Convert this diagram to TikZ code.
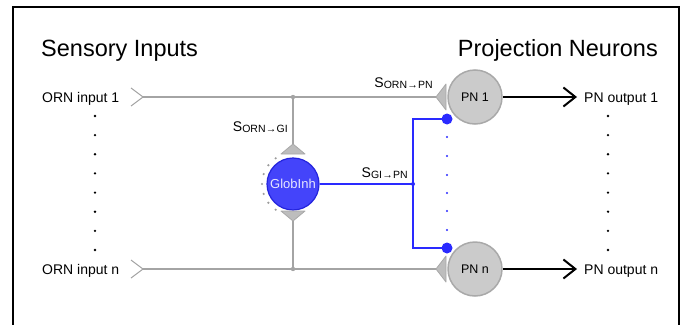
\documentclass[tikz,border=0pt]{standalone}
\usepackage{fontspec}
\setmainfont{Liberation Sans}
\usetikzlibrary{arrows.meta,calc}

\definecolor{wire}{HTML}{A4A4A4}
\definecolor{trifill}{HTML}{BDBDBD}
\definecolor{triedge}{HTML}{A8A8A8}
\definecolor{pnfill}{HTML}{CBCBCB}
\definecolor{pnedge}{HTML}{A9A9A9}
\definecolor{gifill}{HTML}{4444FA}
\definecolor{giedge}{HTML}{2424DD}
\definecolor{gitext}{HTML}{E6E6FF}
\definecolor{inh}{HTML}{2A2AFF}
\definecolor{arcdot}{HTML}{9C9C9C}

% synapse label: S with a small subscript
\newcommand{\synlabel}[2]{S\raisebox{-1pt}{\fontsize{10.5}{10.5}\selectfont #1\kern0.3pt→\kern0.3pt#2}}

\begin{document}
\begin{tikzpicture}[x=1pt,y=-1pt,
  title/.style={font=\fontsize{23.5}{28}\selectfont, inner sep=0pt},
  lbl/.style={font=\fontsize{14}{16}\selectfont, inner sep=0pt},
  synlab/.style={font=\fontsize{14}{16}\selectfont, inner sep=0pt},
  pn/.style={circle, minimum size=54pt, inner sep=0pt, fill=pnfill, draw=pnedge,
    line width=1.5pt, font=\fontsize{12.5}{14}\selectfont},
  gi/.style={circle, minimum size=52pt, inner sep=0pt, fill=gifill, draw=giedge,
    line width=1.2pt, text=gitext, font=\fontsize{13}{15}\selectfont},
  wireline/.style={draw=wire, line width=1.2pt},
  syntri/.style={fill=trifill, draw=triedge, line width=0.8pt, line join=round},
  inhline/.style={draw=inh, line width=1.3pt},
  bdot/.style={circle, minimum size=11pt, inner sep=0pt, fill=inh, draw=none},
  outarrow/.style={draw=black, line width=2pt,
    -{Straight Barb[length=12pt, width=19pt, line width=2pt]}},
]
\useasboundingbox (0,0) rectangle (690,324);
\fill[white] (0,0) rectangle (690,324);
\draw[line width=1.5pt] (13,7) rectangle (679,340);

% titles
\node[title, anchor=base west] (tin) at (41,56) {Sensory Inputs};
\node[title, anchor=base east] (tpn) at (658,56) {Projection Neurons};

% inputs
\node[lbl, anchor=base west] (in1) at (42,102) {ORN input 1};
\node[lbl, anchor=base west] (inn) at (42,274) {ORN input n};
\coordinate (c1) at (143,97);
\coordinate (cn) at (143,269);
\coordinate (j1) at (293,97);
\coordinate (jn) at (293,269);

% neurons
\node[pn] (pn1) at (475,97) {PN 1};
\node[pn] (pnn) at (475,269) {PN n};
\node[gi] (gi) at (293,184) {GlobInh};

% synapse apexes
\coordinate (s1) at (436,97);
\coordinate (sn) at (436,269);
\coordinate (gt) at (293,144);
\coordinate (gb) at (293,221);

% excitatory wiring
\draw[wireline] (c1) -- (s1);
\draw[wireline] (cn) -- (sn);
\draw[wireline] (j1) -- (gt);
\draw[wireline] (gb) -- (jn);
\draw[wireline, line width=1pt] ($(c1)+(-12,-9)$) -- (c1) -- ($(c1)+(-12,9)$);
\draw[wireline, line width=1pt] ($(cn)+(-12,-9)$) -- (cn) -- ($(cn)+(-12,9)$);
\fill[wire] (j1) circle (2.2);
\fill[wire] (jn) circle (2.2);

% synapse triangles
\filldraw[syntri] (gt) -- ++(12,10) -- ++(-24,0) -- cycle;
\filldraw[syntri] (gb) -- ++(12,-10) -- ++(-24,0) -- cycle;
\filldraw[syntri] (s1) -- ++(10,-13) -- ++(0,26) -- cycle;
\filldraw[syntri] (sn) -- ++(10,-13) -- ++(0,26) -- cycle;

% dotted arc beside the inhibitory neuron
\foreach \k in {0,...,6}
  \fill[arcdot] (gi.center) ++({124+\k*18.67}:31) circle (1.2);

% inhibitory wiring
\coordinate (bj) at (413,184);
\coordinate (bt) at (413,119);
\coordinate (bb) at (413,248);
\node[bdot] (d1) at (447,119) {};
\node[bdot] (dn) at (447,248) {};
\draw[inhline] (gi) -- (bj);
\draw[inhline] (d1.center) -- (bt) -- (bb) -- (dn.center);
\fill[inh] (bj) circle (2);
\foreach \y in {137,156,175,193,211,230}
  \fill[inh] (447,\y) circle (1.1);

% synapse labels
\node[synlab, anchor=base east] (lg) at (288,131) {\synlabel{ORN}{GI}};
\node[synlab, anchor=base east] (lp) at (433,87) {\synlabel{ORN}{PN}};
\node[synlab, anchor=base east] (li) at (408,177) {\synlabel{GI}{PN}};

% outputs
\coordinate (o1) at (577,97);
\coordinate (on) at (577,269);
\node[lbl, anchor=base west] (out1) at (584,102) {PN output 1};
\node[lbl, anchor=base west] (outn) at (584,274) {PN output n};
\draw[outarrow] (pn1) -- (o1);
\draw[outarrow] (pnn) -- (on);

% ellipsis dots
\foreach \k in {0,...,7} {
  \fill[black] (95,{116+\k*19.14}) circle (1.3);
  \fill[black] (608,{116+\k*19.14}) circle (1.3);
}
\end{tikzpicture}
\end{document}
